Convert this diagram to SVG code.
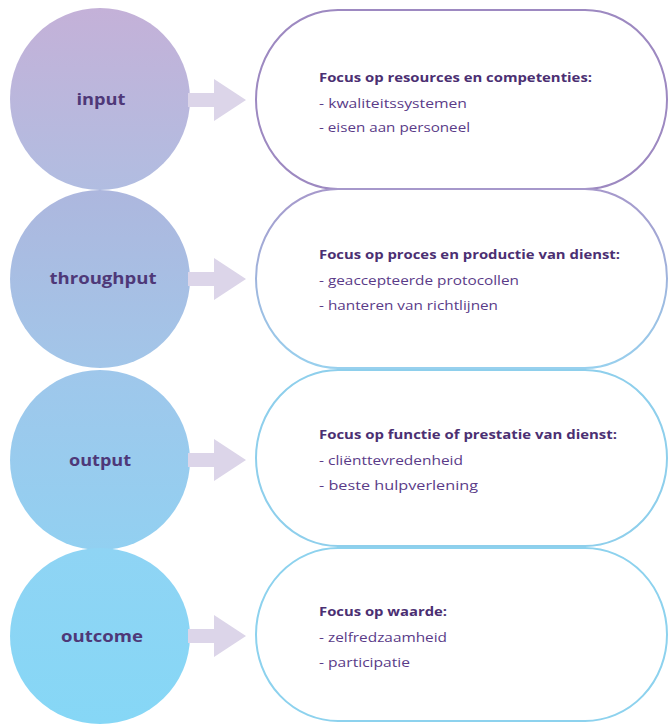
<svg xmlns="http://www.w3.org/2000/svg" width="669" height="724" viewBox="0 0 669 724">
  <defs>
    <linearGradient id="gIn" x1="0" y1="0" x2="0" y2="1">
      <stop offset="0" stop-color="#c4b1d8"/>
      <stop offset="1" stop-color="#b1bde1"/>
    </linearGradient>
    <linearGradient id="gThru" x1="0" y1="0" x2="0" y2="1">
      <stop offset="0" stop-color="#adb7de"/>
      <stop offset="1" stop-color="#a2c6e9"/>
    </linearGradient>
    <linearGradient id="gOut" x1="0" y1="0" x2="0" y2="1">
      <stop offset="0" stop-color="#9fc7eb"/>
      <stop offset="1" stop-color="#92d0f1"/>
    </linearGradient>
    <linearGradient id="gOutc" x1="0" y1="0" x2="0" y2="1">
      <stop offset="0" stop-color="#8fd4f4"/>
      <stop offset="1" stop-color="#86d7f6"/>
    </linearGradient>
    <linearGradient id="sThru" x1="0" y1="0" x2="0" y2="1">
      <stop offset="0" stop-color="#a698cb"/>
      <stop offset="1" stop-color="#98d0ee"/>
    </linearGradient>
    <path id="arrow" d="M188,-7 H214 V-21 L246,0 L214,21 V7 H188 Z"/>
  </defs>
  <style>
    .box { fill: #ffffff; stroke-width: 2; }
    .lbl { font-family: "Open Sans", "Liberation Sans", sans-serif; font-weight: bold; font-size: 16px; fill: #4e3878; text-anchor: middle; }
    .hd { font-family: "Open Sans", "Liberation Sans", sans-serif; font-weight: bold; font-size: 12.5px; fill: #4b2f72; }
    .li { font-family: "Open Sans", "Liberation Sans", sans-serif; font-size: 12.5px; fill: #5a3b88; }
    .arr { fill: #dcd5e9; }
  </style>

  <rect width="669" height="724" fill="#ffffff"/>

  <!-- detail boxes -->
  <g id="box-input">
    <rect class="box" x="256" y="10" width="411" height="179" rx="82" ry="89.5" stroke="#9d89c1"/>
    <text class="hd" x="319" y="82" textLength="273" lengthAdjust="spacingAndGlyphs">Focus op resources en competenties:</text>
    <text class="li" x="319" y="108" textLength="148" lengthAdjust="spacingAndGlyphs">- kwaliteitssystemen</text>
    <text class="li" x="319" y="132" textLength="151" lengthAdjust="spacingAndGlyphs">- eisen aan personeel</text>
  </g>
  <g id="box-throughput">
    <rect class="box" x="256" y="189" width="411" height="179" rx="82" ry="89.5" stroke="url(#sThru)"/>
    <text class="hd" x="319" y="259" textLength="301" lengthAdjust="spacingAndGlyphs">Focus op proces en productie van dienst:</text>
    <text class="li" x="319" y="285" textLength="200" lengthAdjust="spacingAndGlyphs">- geaccepteerde protocollen</text>
    <text class="li" x="319" y="310" textLength="179" lengthAdjust="spacingAndGlyphs">- hanteren van richtlijnen</text>
  </g>
  <g id="box-output">
    <rect class="box" x="256" y="370" width="411" height="176" rx="82" ry="88" stroke="#8ecfec"/>
    <text class="hd" x="319" y="439" textLength="298" lengthAdjust="spacingAndGlyphs">Focus op functie of prestatie van dienst:</text>
    <text class="li" x="319" y="465" textLength="144" lengthAdjust="spacingAndGlyphs">- cliënttevredenheid</text>
    <text class="li" x="319" y="490" textLength="159" lengthAdjust="spacingAndGlyphs">- beste hulpverlening</text>
  </g>
  <g id="box-outcome">
    <rect class="box" x="256" y="548" width="411" height="173" rx="82" ry="86.5" stroke="#8dd2ee"/>
    <text class="hd" x="319" y="616" textLength="128" lengthAdjust="spacingAndGlyphs">Focus op waarde:</text>
    <text class="li" x="319" y="642" textLength="128" lengthAdjust="spacingAndGlyphs">- zelfredzaamheid</text>
    <text class="li" x="319" y="667" textLength="91" lengthAdjust="spacingAndGlyphs">- participatie</text>
  </g>

  <!-- phase circles -->
  <g id="node-input">
    <ellipse cx="100" cy="99" rx="90" ry="91" fill="url(#gIn)"/>
    <text class="lbl" x="101" y="105" textLength="49" lengthAdjust="spacingAndGlyphs">input</text>
  </g>
  <g id="node-throughput">
    <ellipse cx="100" cy="279" rx="90" ry="89" fill="url(#gThru)"/>
    <text class="lbl" x="103" y="284" textLength="107" lengthAdjust="spacingAndGlyphs">throughput</text>
  </g>
  <g id="node-output">
    <ellipse cx="100" cy="460" rx="90" ry="90" fill="url(#gOut)"/>
    <text class="lbl" x="100" y="466" textLength="62" lengthAdjust="spacingAndGlyphs">output</text>
  </g>
  <g id="node-outcome">
    <ellipse cx="100" cy="636" rx="90" ry="88" fill="url(#gOutc)"/>
    <text class="lbl" x="102" y="642" textLength="82" lengthAdjust="spacingAndGlyphs">outcome</text>
  </g>

  <!-- connectors: block arrows from circle to box -->
  <g id="connectors">
    <use href="#arrow" class="arr" transform="translate(0,100)"/>
    <use href="#arrow" class="arr" transform="translate(0,279)"/>
    <use href="#arrow" class="arr" transform="translate(0,460)"/>
    <use href="#arrow" class="arr" transform="translate(0,636)"/>
  </g>
</svg>
